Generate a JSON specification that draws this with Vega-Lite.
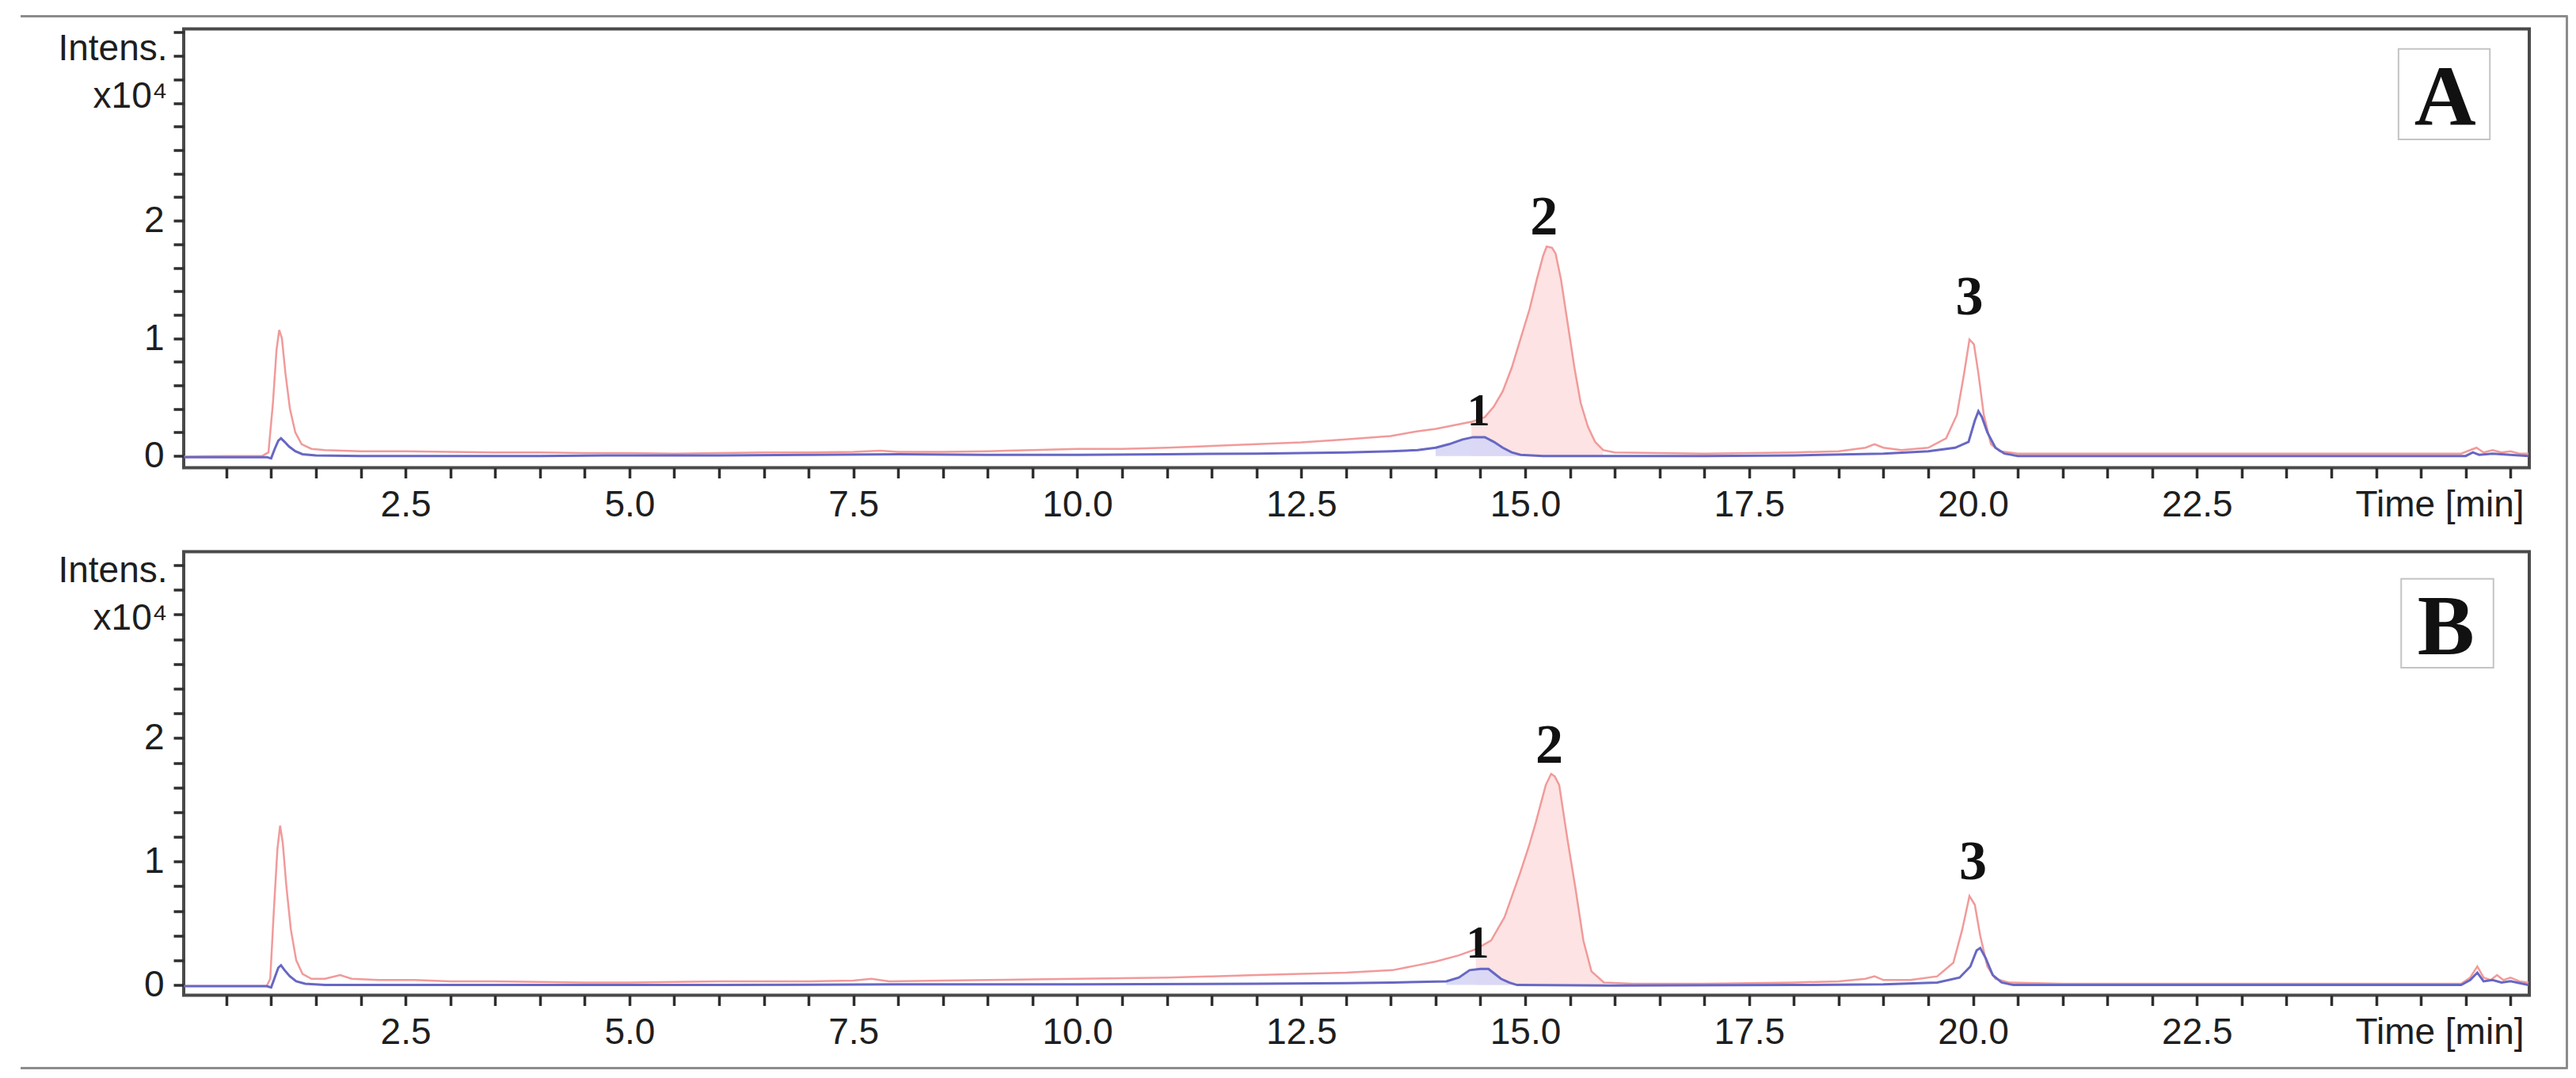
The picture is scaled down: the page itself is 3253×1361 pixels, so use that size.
{
  "$schema": "https://vega.github.io/schema/vega-lite/v6.json",
  "background": "white",
  "padding": {"left": 22, "top": 15.5, "right": 0, "bottom": 0},
  "bounds": "flush",
  "spacing": 106,
  "config": {
    "view": {"stroke": "#4a4a4a", "strokeWidth": 4},
    "axis": {
      "grid": false, "domain": false,
      "labelFont": "Liberation Sans", "labelFontSize": 46, "labelColor": "#1e1e1e",
      "titleFont": "Liberation Sans", "titleFontSize": 46, "titleFontWeight": "normal", "titleColor": "#1e1e1e"
    }
  },
  "datasets": {
    "traces": [
      {"panel":"A","trace":"red","time":0.03,"intensity":-0.005},{"panel":"A","trace":"red","time":0.5,"intensity":0.0},{"panel":"A","trace":"red","time":0.9,"intensity":0.0},{"panel":"A","trace":"red","time":0.97,"intensity":0.03},{"panel":"A","trace":"red","time":1.02,"intensity":0.45},{"panel":"A","trace":"red","time":1.06,"intensity":0.9},{"panel":"A","trace":"red","time":1.09,"intensity":1.07},{"panel":"A","trace":"red","time":1.12,"intensity":1.0},{"panel":"A","trace":"red","time":1.16,"intensity":0.7},{"panel":"A","trace":"red","time":1.21,"intensity":0.4},{"panel":"A","trace":"red","time":1.27,"intensity":0.2},{"panel":"A","trace":"red","time":1.34,"intensity":0.1},{"panel":"A","trace":"red","time":1.45,"intensity":0.06},{"panel":"A","trace":"red","time":1.6,"intensity":0.05},{"panel":"A","trace":"red","time":2.0,"intensity":0.04},{"panel":"A","trace":"red","time":2.5,"intensity":0.04},{"panel":"A","trace":"red","time":3.0,"intensity":0.035},{"panel":"A","trace":"red","time":3.5,"intensity":0.03},{"panel":"A","trace":"red","time":4.0,"intensity":0.03},{"panel":"A","trace":"red","time":4.5,"intensity":0.025},{"panel":"A","trace":"red","time":5.0,"intensity":0.025},{"panel":"A","trace":"red","time":5.5,"intensity":0.02},{"panel":"A","trace":"red","time":6.0,"intensity":0.025},{"panel":"A","trace":"red","time":6.5,"intensity":0.03},{"panel":"A","trace":"red","time":7.0,"intensity":0.03},{"panel":"A","trace":"red","time":7.5,"intensity":0.035},{"panel":"A","trace":"red","time":7.8,"intensity":0.045},{"panel":"A","trace":"red","time":8.0,"intensity":0.035},{"panel":"A","trace":"red","time":8.5,"intensity":0.035},{"panel":"A","trace":"red","time":9.0,"intensity":0.04},{"panel":"A","trace":"red","time":9.5,"intensity":0.05},{"panel":"A","trace":"red","time":10.0,"intensity":0.06},{"panel":"A","trace":"red","time":10.5,"intensity":0.06},{"panel":"A","trace":"red","time":11.0,"intensity":0.07},{"panel":"A","trace":"red","time":11.5,"intensity":0.085},{"panel":"A","trace":"red","time":12.0,"intensity":0.1},{"panel":"A","trace":"red","time":12.5,"intensity":0.115},{"panel":"A","trace":"red","time":13.0,"intensity":0.14},{"panel":"A","trace":"red","time":13.5,"intensity":0.17},{"panel":"A","trace":"red","time":13.8,"intensity":0.21},{"panel":"A","trace":"red","time":14.0,"intensity":0.23},{"panel":"A","trace":"red","time":14.2,"intensity":0.26},{"panel":"A","trace":"red","time":14.4,"intensity":0.29},{"panel":"A","trace":"red","time":14.55,"intensity":0.33},{"panel":"A","trace":"red","time":14.65,"intensity":0.42},{"panel":"A","trace":"red","time":14.75,"intensity":0.55},{"panel":"A","trace":"red","time":14.85,"intensity":0.75},{"panel":"A","trace":"red","time":14.95,"intensity":1.0},{"panel":"A","trace":"red","time":15.05,"intensity":1.25},{"panel":"A","trace":"red","time":15.13,"intensity":1.5},{"panel":"A","trace":"red","time":15.2,"intensity":1.7},{"panel":"A","trace":"red","time":15.24,"intensity":1.78},{"panel":"A","trace":"red","time":15.3,"intensity":1.77},{"panel":"A","trace":"red","time":15.34,"intensity":1.72},{"panel":"A","trace":"red","time":15.4,"intensity":1.5},{"panel":"A","trace":"red","time":15.47,"intensity":1.15},{"panel":"A","trace":"red","time":15.55,"intensity":0.75},{"panel":"A","trace":"red","time":15.62,"intensity":0.45},{"panel":"A","trace":"red","time":15.7,"intensity":0.25},{"panel":"A","trace":"red","time":15.78,"intensity":0.12},{"panel":"A","trace":"red","time":15.87,"intensity":0.05},{"panel":"A","trace":"red","time":16.0,"intensity":0.03},{"panel":"A","trace":"red","time":16.5,"intensity":0.025},{"panel":"A","trace":"red","time":17.0,"intensity":0.02},{"panel":"A","trace":"red","time":17.5,"intensity":0.025},{"panel":"A","trace":"red","time":18.0,"intensity":0.03},{"panel":"A","trace":"red","time":18.5,"intensity":0.04},{"panel":"A","trace":"red","time":18.8,"intensity":0.07},{"panel":"A","trace":"red","time":18.9,"intensity":0.1},{"panel":"A","trace":"red","time":19.0,"intensity":0.07},{"panel":"A","trace":"red","time":19.2,"intensity":0.05},{"panel":"A","trace":"red","time":19.5,"intensity":0.07},{"panel":"A","trace":"red","time":19.7,"intensity":0.15},{"panel":"A","trace":"red","time":19.82,"intensity":0.35},{"panel":"A","trace":"red","time":19.9,"intensity":0.7},{"panel":"A","trace":"red","time":19.96,"intensity":0.99},{"panel":"A","trace":"red","time":20.01,"intensity":0.95},{"panel":"A","trace":"red","time":20.06,"intensity":0.7},{"panel":"A","trace":"red","time":20.12,"intensity":0.35},{"panel":"A","trace":"red","time":20.2,"intensity":0.1},{"panel":"A","trace":"red","time":20.3,"intensity":0.04},{"panel":"A","trace":"red","time":20.5,"intensity":0.02},{"panel":"A","trace":"red","time":21.0,"intensity":0.02},{"panel":"A","trace":"red","time":22.0,"intensity":0.02},{"panel":"A","trace":"red","time":23.0,"intensity":0.02},{"panel":"A","trace":"red","time":24.0,"intensity":0.02},{"panel":"A","trace":"red","time":25.0,"intensity":0.02},{"panel":"A","trace":"red","time":25.45,"intensity":0.02},{"panel":"A","trace":"red","time":25.55,"intensity":0.05},{"panel":"A","trace":"red","time":25.62,"intensity":0.07},{"panel":"A","trace":"red","time":25.7,"intensity":0.03},{"panel":"A","trace":"red","time":25.8,"intensity":0.05},{"panel":"A","trace":"red","time":25.9,"intensity":0.03},{"panel":"A","trace":"red","time":26.0,"intensity":0.04},{"panel":"A","trace":"red","time":26.1,"intensity":0.02},{"panel":"A","trace":"red","time":26.2,"intensity":0.02},
      {"panel":"A","trace":"blue","time":0.03,"intensity":-0.01},{"panel":"A","trace":"blue","time":0.5,"intensity":-0.01},{"panel":"A","trace":"blue","time":0.95,"intensity":-0.01},{"panel":"A","trace":"blue","time":1.0,"intensity":-0.02},{"panel":"A","trace":"blue","time":1.04,"intensity":0.06},{"panel":"A","trace":"blue","time":1.08,"intensity":0.13},{"panel":"A","trace":"blue","time":1.11,"intensity":0.15},{"panel":"A","trace":"blue","time":1.15,"intensity":0.12},{"panel":"A","trace":"blue","time":1.2,"intensity":0.08},{"panel":"A","trace":"blue","time":1.27,"intensity":0.04},{"panel":"A","trace":"blue","time":1.35,"intensity":0.015},{"panel":"A","trace":"blue","time":1.5,"intensity":0.005},{"panel":"A","trace":"blue","time":2.0,"intensity":0.0},{"panel":"A","trace":"blue","time":3.0,"intensity":0.0},{"panel":"A","trace":"blue","time":4.0,"intensity":0.0},{"panel":"A","trace":"blue","time":5.0,"intensity":0.005},{"panel":"A","trace":"blue","time":6.0,"intensity":0.005},{"panel":"A","trace":"blue","time":7.0,"intensity":0.01},{"panel":"A","trace":"blue","time":8.0,"intensity":0.015},{"panel":"A","trace":"blue","time":9.0,"intensity":0.01},{"panel":"A","trace":"blue","time":10.0,"intensity":0.01},{"panel":"A","trace":"blue","time":11.0,"intensity":0.015},{"panel":"A","trace":"blue","time":12.0,"intensity":0.02},{"panel":"A","trace":"blue","time":12.5,"intensity":0.025},{"panel":"A","trace":"blue","time":13.0,"intensity":0.03},{"panel":"A","trace":"blue","time":13.5,"intensity":0.04},{"panel":"A","trace":"blue","time":13.8,"intensity":0.05},{"panel":"A","trace":"blue","time":14.0,"intensity":0.07},{"panel":"A","trace":"blue","time":14.15,"intensity":0.1},{"panel":"A","trace":"blue","time":14.3,"intensity":0.14},{"panel":"A","trace":"blue","time":14.42,"intensity":0.16},{"panel":"A","trace":"blue","time":14.55,"intensity":0.16},{"panel":"A","trace":"blue","time":14.65,"intensity":0.12},{"panel":"A","trace":"blue","time":14.75,"intensity":0.07},{"panel":"A","trace":"blue","time":14.85,"intensity":0.03},{"panel":"A","trace":"blue","time":14.95,"intensity":0.01},{"panel":"A","trace":"blue","time":15.2,"intensity":0.0},{"panel":"A","trace":"blue","time":16.0,"intensity":0.0},{"panel":"A","trace":"blue","time":17.0,"intensity":0.0},{"panel":"A","trace":"blue","time":18.0,"intensity":0.005},{"panel":"A","trace":"blue","time":19.0,"intensity":0.02},{"panel":"A","trace":"blue","time":19.5,"intensity":0.04},{"panel":"A","trace":"blue","time":19.8,"intensity":0.07},{"panel":"A","trace":"blue","time":19.95,"intensity":0.12},{"panel":"A","trace":"blue","time":20.02,"intensity":0.3},{"panel":"A","trace":"blue","time":20.06,"intensity":0.38},{"panel":"A","trace":"blue","time":20.1,"intensity":0.33},{"panel":"A","trace":"blue","time":20.16,"intensity":0.2},{"panel":"A","trace":"blue","time":20.25,"intensity":0.07},{"panel":"A","trace":"blue","time":20.35,"intensity":0.02},{"panel":"A","trace":"blue","time":20.5,"intensity":0.0},{"panel":"A","trace":"blue","time":22.0,"intensity":0.0},{"panel":"A","trace":"blue","time":24.0,"intensity":0.0},{"panel":"A","trace":"blue","time":25.5,"intensity":0.0},{"panel":"A","trace":"blue","time":25.58,"intensity":0.03},{"panel":"A","trace":"blue","time":25.65,"intensity":0.01},{"panel":"A","trace":"blue","time":25.8,"intensity":0.02},{"panel":"A","trace":"blue","time":26.0,"intensity":0.01},{"panel":"A","trace":"blue","time":26.2,"intensity":0.0},
      {"panel":"B","trace":"red","time":0.03,"intensity":-0.01},{"panel":"B","trace":"red","time":0.5,"intensity":-0.01},{"panel":"B","trace":"red","time":0.95,"intensity":-0.01},{"panel":"B","trace":"red","time":0.99,"intensity":0.05},{"panel":"B","trace":"red","time":1.03,"intensity":0.6},{"panel":"B","trace":"red","time":1.07,"intensity":1.1},{"panel":"B","trace":"red","time":1.1,"intensity":1.29},{"panel":"B","trace":"red","time":1.13,"intensity":1.15},{"panel":"B","trace":"red","time":1.17,"intensity":0.8},{"panel":"B","trace":"red","time":1.22,"intensity":0.45},{"panel":"B","trace":"red","time":1.28,"intensity":0.2},{"panel":"B","trace":"red","time":1.35,"intensity":0.09},{"panel":"B","trace":"red","time":1.45,"intensity":0.05},{"panel":"B","trace":"red","time":1.6,"intensity":0.05},{"panel":"B","trace":"red","time":1.77,"intensity":0.08},{"panel":"B","trace":"red","time":1.9,"intensity":0.05},{"panel":"B","trace":"red","time":2.2,"intensity":0.04},{"panel":"B","trace":"red","time":2.6,"intensity":0.04},{"panel":"B","trace":"red","time":3.0,"intensity":0.03},{"panel":"B","trace":"red","time":3.5,"intensity":0.03},{"panel":"B","trace":"red","time":4.0,"intensity":0.025},{"panel":"B","trace":"red","time":4.5,"intensity":0.02},{"panel":"B","trace":"red","time":5.0,"intensity":0.02},{"panel":"B","trace":"red","time":5.5,"intensity":0.025},{"panel":"B","trace":"red","time":6.0,"intensity":0.03},{"panel":"B","trace":"red","time":6.5,"intensity":0.03},{"panel":"B","trace":"red","time":7.0,"intensity":0.03},{"panel":"B","trace":"red","time":7.5,"intensity":0.035},{"panel":"B","trace":"red","time":7.7,"intensity":0.05},{"panel":"B","trace":"red","time":7.9,"intensity":0.03},{"panel":"B","trace":"red","time":8.5,"intensity":0.035},{"panel":"B","trace":"red","time":9.0,"intensity":0.04},{"panel":"B","trace":"red","time":9.5,"intensity":0.045},{"panel":"B","trace":"red","time":10.0,"intensity":0.05},{"panel":"B","trace":"red","time":10.5,"intensity":0.055},{"panel":"B","trace":"red","time":11.0,"intensity":0.06},{"panel":"B","trace":"red","time":11.5,"intensity":0.07},{"panel":"B","trace":"red","time":12.0,"intensity":0.08},{"panel":"B","trace":"red","time":12.5,"intensity":0.09},{"panel":"B","trace":"red","time":13.0,"intensity":0.1},{"panel":"B","trace":"red","time":13.52,"intensity":0.12},{"panel":"B","trace":"red","time":13.8,"intensity":0.16},{"panel":"B","trace":"red","time":14.0,"intensity":0.19},{"panel":"B","trace":"red","time":14.26,"intensity":0.24},{"panel":"B","trace":"red","time":14.45,"intensity":0.29},{"panel":"B","trace":"red","time":14.62,"intensity":0.36},{"panel":"B","trace":"red","time":14.77,"intensity":0.55},{"panel":"B","trace":"red","time":14.94,"intensity":0.9},{"panel":"B","trace":"red","time":15.04,"intensity":1.12},{"panel":"B","trace":"red","time":15.12,"intensity":1.32},{"panel":"B","trace":"red","time":15.23,"intensity":1.62},{"panel":"B","trace":"red","time":15.29,"intensity":1.71},{"panel":"B","trace":"red","time":15.33,"intensity":1.69},{"panel":"B","trace":"red","time":15.38,"intensity":1.62},{"panel":"B","trace":"red","time":15.47,"intensity":1.19},{"panel":"B","trace":"red","time":15.56,"intensity":0.79},{"panel":"B","trace":"red","time":15.65,"intensity":0.36},{"panel":"B","trace":"red","time":15.74,"intensity":0.11},{"panel":"B","trace":"red","time":15.88,"intensity":0.02},{"panel":"B","trace":"red","time":16.2,"intensity":0.01},{"panel":"B","trace":"red","time":17.0,"intensity":0.01},{"panel":"B","trace":"red","time":18.0,"intensity":0.02},{"panel":"B","trace":"red","time":18.5,"intensity":0.03},{"panel":"B","trace":"red","time":18.8,"intensity":0.05},{"panel":"B","trace":"red","time":18.9,"intensity":0.07},{"panel":"B","trace":"red","time":19.0,"intensity":0.04},{"panel":"B","trace":"red","time":19.3,"intensity":0.04},{"panel":"B","trace":"red","time":19.6,"intensity":0.07},{"panel":"B","trace":"red","time":19.78,"intensity":0.18},{"panel":"B","trace":"red","time":19.88,"intensity":0.45},{"panel":"B","trace":"red","time":19.96,"intensity":0.72},{"panel":"B","trace":"red","time":20.02,"intensity":0.65},{"panel":"B","trace":"red","time":20.08,"intensity":0.4},{"panel":"B","trace":"red","time":20.16,"intensity":0.15},{"panel":"B","trace":"red","time":20.25,"intensity":0.05},{"panel":"B","trace":"red","time":20.4,"intensity":0.02},{"panel":"B","trace":"red","time":21.0,"intensity":0.01},{"panel":"B","trace":"red","time":22.0,"intensity":0.01},{"panel":"B","trace":"red","time":23.0,"intensity":0.01},{"panel":"B","trace":"red","time":24.0,"intensity":0.01},{"panel":"B","trace":"red","time":25.0,"intensity":0.01},{"panel":"B","trace":"red","time":25.45,"intensity":0.01},{"panel":"B","trace":"red","time":25.55,"intensity":0.06},{"panel":"B","trace":"red","time":25.63,"intensity":0.15},{"panel":"B","trace":"red","time":25.7,"intensity":0.06},{"panel":"B","trace":"red","time":25.78,"intensity":0.04},{"panel":"B","trace":"red","time":25.85,"intensity":0.08},{"panel":"B","trace":"red","time":25.92,"intensity":0.04},{"panel":"B","trace":"red","time":26.0,"intensity":0.06},{"panel":"B","trace":"red","time":26.1,"intensity":0.03},{"panel":"B","trace":"red","time":26.2,"intensity":0.02},
      {"panel":"B","trace":"blue","time":0.03,"intensity":-0.01},{"panel":"B","trace":"blue","time":0.5,"intensity":-0.01},{"panel":"B","trace":"blue","time":0.95,"intensity":-0.01},{"panel":"B","trace":"blue","time":1.0,"intensity":-0.02},{"panel":"B","trace":"blue","time":1.04,"intensity":0.06},{"panel":"B","trace":"blue","time":1.08,"intensity":0.14},{"panel":"B","trace":"blue","time":1.11,"intensity":0.16},{"panel":"B","trace":"blue","time":1.15,"intensity":0.12},{"panel":"B","trace":"blue","time":1.21,"intensity":0.07},{"panel":"B","trace":"blue","time":1.28,"intensity":0.03},{"panel":"B","trace":"blue","time":1.38,"intensity":0.01},{"panel":"B","trace":"blue","time":1.6,"intensity":0.0},{"panel":"B","trace":"blue","time":2.5,"intensity":0.0},{"panel":"B","trace":"blue","time":4.0,"intensity":0.0},{"panel":"B","trace":"blue","time":6.0,"intensity":0.0},{"panel":"B","trace":"blue","time":8.0,"intensity":0.005},{"panel":"B","trace":"blue","time":10.0,"intensity":0.005},{"panel":"B","trace":"blue","time":12.0,"intensity":0.01},{"panel":"B","trace":"blue","time":13.0,"intensity":0.015},{"panel":"B","trace":"blue","time":13.52,"intensity":0.02},{"panel":"B","trace":"blue","time":14.12,"intensity":0.03},{"panel":"B","trace":"blue","time":14.26,"intensity":0.06},{"panel":"B","trace":"blue","time":14.38,"intensity":0.12},{"panel":"B","trace":"blue","time":14.5,"intensity":0.13},{"panel":"B","trace":"blue","time":14.59,"intensity":0.13},{"panel":"B","trace":"blue","time":14.66,"intensity":0.09},{"panel":"B","trace":"blue","time":14.73,"intensity":0.05},{"panel":"B","trace":"blue","time":14.82,"intensity":0.02},{"panel":"B","trace":"blue","time":14.91,"intensity":0.0},{"panel":"B","trace":"blue","time":16.0,"intensity":-0.005},{"panel":"B","trace":"blue","time":18.0,"intensity":0.0},{"panel":"B","trace":"blue","time":19.0,"intensity":0.005},{"panel":"B","trace":"blue","time":19.6,"intensity":0.02},{"panel":"B","trace":"blue","time":19.85,"intensity":0.06},{"panel":"B","trace":"blue","time":19.97,"intensity":0.15},{"panel":"B","trace":"blue","time":20.04,"intensity":0.28},{"panel":"B","trace":"blue","time":20.08,"intensity":0.3},{"panel":"B","trace":"blue","time":20.14,"intensity":0.22},{"panel":"B","trace":"blue","time":20.22,"intensity":0.08},{"panel":"B","trace":"blue","time":20.32,"intensity":0.02},{"panel":"B","trace":"blue","time":20.45,"intensity":0.0},{"panel":"B","trace":"blue","time":22.0,"intensity":0.0},{"panel":"B","trace":"blue","time":25.45,"intensity":0.0},{"panel":"B","trace":"blue","time":25.55,"intensity":0.04},{"panel":"B","trace":"blue","time":25.63,"intensity":0.1},{"panel":"B","trace":"blue","time":25.7,"intensity":0.03},{"panel":"B","trace":"blue","time":25.8,"intensity":0.04},{"panel":"B","trace":"blue","time":25.9,"intensity":0.02},{"panel":"B","trace":"blue","time":26.0,"intensity":0.03},{"panel":"B","trace":"blue","time":26.2,"intensity":0.0}
    ],
    "peaks": [
      {"panel":"A","label":"1","time":14.48,"intensity":0.26},
      {"panel":"A","label":"2","time":15.21,"intensity":1.88},
      {"panel":"A","label":"3","time":19.96,"intensity":1.2},
      {"panel":"B","label":"1","time":14.47,"intensity":0.22},
      {"panel":"B","label":"2","time":15.27,"intensity":1.8},
      {"panel":"B","label":"3","time":20.0,"intensity":0.86}
    ]
  },
  "vconcat": [
    {
      "width": 2962,
      "height": 554,
      "resolve": {"axis": {"x": "independent", "y": "independent"}},
      "layer": [
        {"data": {"name": "traces"}, "transform": [{"filter": "datum.panel == 'A' && datum.trace == 'red' && datum.time >= 14.4 && datum.time <= 15.87"}],
          "mark": {"type": "area", "color": "#fde3e3"},
          "encoding": {
            "x": {"field": "time", "type": "quantitative", "scale": {"domain": [0.024, 26.21], "nice": false, "zero": false},
              "axis": {"values": [0.5,1,1.5,2,2.5,3,3.5,4,4.5,5,5.5,6,6.5,7,7.5,8,8.5,9,9.5,10,10.5,11,11.5,12,12.5,13,13.5,14,14.5,15,15.5,16,16.5,17,17.5,18,18.5,19,19.5,20,20.5,21,21.5,22,22.5,23,23.5,24,24.5,25,25.5,26],
                "labelExpr": "(datum.value % 2.5 == 0 && datum.value < 24) ? format(datum.value, '.1f') : ''",
                "labelOverlap": false, "labelPadding": 12, "ticks": true, "tickSize": 13, "tickWidth": 3.5, "tickColor": "#2e2e2e",
                "title": "Time [min]", "titleX": 2955, "titleY": 25, "titleAlign": "right", "titleBaseline": "top"}},
            "y": {"field": "intensity", "type": "quantitative", "scale": {"domain": [-0.1, 3.63], "nice": false, "zero": false},
              "axis": {"values": [0,0.2,0.4,0.6,0.8,1,1.2,1.4,1.6,1.8,2,2.2,2.4,2.6,2.8,3,3.2,3.4,3.6],
                "labelExpr": "datum.value == 0 ? '0' : datum.value == 1 ? '1' : datum.value == 2 ? '2' : ''",
                "labelOverlap": false, "labelPadding": 12, "ticks": true, "tickSize": 13, "tickWidth": 3.5, "tickColor": "#2e2e2e",
                "title": ["Intens.", "x10⁴"], "titleAngle": 0, "titleAlign": "right", "titleBaseline": "alphabetic",
                "titleX": -21, "titleY": 39, "titleLineHeight": 60}}
          }},
        {"data": {"name": "traces"}, "transform": [{"filter": "datum.panel == 'A' && datum.trace == 'blue' && datum.time >= 14.0 && datum.time <= 14.95"}],
          "mark": {"type": "area", "color": "#d6d6f5", "opacity": 0.9},
          "encoding": {
            "x": {"field": "time", "type": "quantitative", "axis": null},
            "y": {"field": "intensity", "type": "quantitative", "axis": null}}},
        {"data": {"name": "traces"}, "transform": [{"filter": "datum.panel == 'A' && datum.trace == 'red'"}],
          "mark": {"type": "line", "color": "#f19a9a", "strokeWidth": 2.5},
          "encoding": {
            "x": {"field": "time", "type": "quantitative", "axis": null},
            "y": {"field": "intensity", "type": "quantitative", "axis": null}}},
        {"data": {"name": "traces"}, "transform": [{"filter": "datum.panel == 'A' && datum.trace == 'blue'"}],
          "mark": {"type": "line", "color": "#6767c4", "strokeWidth": 3},
          "encoding": {
            "x": {"field": "time", "type": "quantitative", "axis": null},
            "y": {"field": "intensity", "type": "quantitative", "axis": null}}},
        {"data": {"name": "peaks"}, "transform": [{"filter": "datum.panel == 'A'"}],
          "mark": {"type": "text", "font": "Liberation Serif", "fontWeight": "bold", "baseline": "alphabetic", "align": "center", "color": "#111111"},
          "encoding": {
            "x": {"field": "time", "type": "quantitative", "axis": null},
            "y": {"field": "intensity", "type": "quantitative", "axis": null},
            "text": {"field": "label"}, "size": {"condition": {"test": "datum.label == '1'", "value": 58}, "value": 70}}},
        {"data": {"values": [{}]}, "mark": {"type": "rect", "fill": "transparent", "stroke": "#c4c4c4", "strokeWidth": 2},
          "encoding": {"x": {"datum": 24.75, "axis": null}, "x2": {"datum": 25.77}, "y": {"datum": 3.46, "axis": null}, "y2": {"datum": 2.69}}},
        {"data": {"values": [{}]}, "mark": {"type": "text", "text": "A", "font": "Liberation Serif", "fontWeight": "bold", "fontSize": 108, "baseline": "alphabetic", "align": "center", "color": "#111111"},
          "encoding": {"x": {"datum": 25.27, "axis": null}, "y": {"datum": 2.815, "axis": null}}},
        {"data": {"values": [{}]}, "mark": {"type": "rule", "color": "#8c8c8c", "strokeWidth": 3},
          "encoding": {"x": {"datum": -1.797, "axis": null}, "x2": {"datum": 26.64}, "y": {"datum": 3.737, "axis": null}}},
        {"data": {"values": [{}]}, "mark": {"type": "rule", "color": "#8c8c8c", "strokeWidth": 3},
          "encoding": {"x": {"datum": 26.63, "axis": null}, "y": {"datum": 3.737, "axis": null}, "y2": {"datum": -5.203}}},
        {"data": {"values": [{}]}, "mark": {"type": "rule", "color": "#8c8c8c", "strokeWidth": 3},
          "encoding": {"x": {"datum": -1.797, "axis": null}, "x2": {"datum": 26.64}, "y": {"datum": -5.203, "axis": null}}}
      ]
    },
    {
      "width": 2962,
      "height": 560,
      "resolve": {"axis": {"x": "independent", "y": "independent"}},
      "layer": [
        {"data": {"name": "traces"}, "transform": [{"filter": "datum.panel == 'B' && datum.trace == 'red' && datum.time >= 14.45 && datum.time <= 15.88"}],
          "mark": {"type": "area", "color": "#fde3e3"},
          "encoding": {
            "x": {"field": "time", "type": "quantitative", "scale": {"domain": [0.024, 26.21], "nice": false, "zero": false},
              "axis": {"values": [0.5,1,1.5,2,2.5,3,3.5,4,4.5,5,5.5,6,6.5,7,7.5,8,8.5,9,9.5,10,10.5,11,11.5,12,12.5,13,13.5,14,14.5,15,15.5,16,16.5,17,17.5,18,18.5,19,19.5,20,20.5,21,21.5,22,22.5,23,23.5,24,24.5,25,25.5,26],
                "labelExpr": "(datum.value % 2.5 == 0 && datum.value < 24) ? format(datum.value, '.1f') : ''",
                "labelOverlap": false, "labelPadding": 12, "ticks": true, "tickSize": 13, "tickWidth": 3.5, "tickColor": "#2e2e2e",
                "title": "Time [min]", "titleX": 2955, "titleY": 25, "titleAlign": "right", "titleBaseline": "top"}},
            "y": {"field": "intensity", "type": "quantitative", "scale": {"domain": [-0.083, 3.51], "nice": false, "zero": false},
              "axis": {"values": [0,0.2,0.4,0.6,0.8,1,1.2,1.4,1.6,1.8,2,2.2,2.4,2.6,2.8,3,3.2,3.4],
                "labelExpr": "datum.value == 0 ? '0' : datum.value == 1 ? '1' : datum.value == 2 ? '2' : ''",
                "labelOverlap": false, "labelPadding": 12, "ticks": true, "tickSize": 13, "tickWidth": 3.5, "tickColor": "#2e2e2e",
                "title": ["Intens.", "x10⁴"], "titleAngle": 0, "titleAlign": "right", "titleBaseline": "alphabetic",
                "titleX": -21, "titleY": 38, "titleLineHeight": 60}}
          }},
        {"data": {"name": "traces"}, "transform": [{"filter": "datum.panel == 'B' && datum.trace == 'blue' && datum.time >= 14.12 && datum.time <= 14.91"}],
          "mark": {"type": "area", "color": "#d6d6f5", "opacity": 0.9},
          "encoding": {
            "x": {"field": "time", "type": "quantitative", "axis": null},
            "y": {"field": "intensity", "type": "quantitative", "axis": null}}},
        {"data": {"name": "traces"}, "transform": [{"filter": "datum.panel == 'B' && datum.trace == 'red'"}],
          "mark": {"type": "line", "color": "#f19a9a", "strokeWidth": 2.5},
          "encoding": {
            "x": {"field": "time", "type": "quantitative", "axis": null},
            "y": {"field": "intensity", "type": "quantitative", "axis": null}}},
        {"data": {"name": "traces"}, "transform": [{"filter": "datum.panel == 'B' && datum.trace == 'blue'"}],
          "mark": {"type": "line", "color": "#6767c4", "strokeWidth": 3},
          "encoding": {
            "x": {"field": "time", "type": "quantitative", "axis": null},
            "y": {"field": "intensity", "type": "quantitative", "axis": null}}},
        {"data": {"name": "peaks"}, "transform": [{"filter": "datum.panel == 'B'"}],
          "mark": {"type": "text", "font": "Liberation Serif", "fontWeight": "bold", "baseline": "alphabetic", "align": "center", "color": "#111111"},
          "encoding": {
            "x": {"field": "time", "type": "quantitative", "axis": null},
            "y": {"field": "intensity", "type": "quantitative", "axis": null},
            "text": {"field": "label"}, "size": {"condition": {"test": "datum.label == '1'", "value": 58}, "value": 70}}},
        {"data": {"values": [{}]}, "mark": {"type": "rect", "fill": "transparent", "stroke": "#c4c4c4", "strokeWidth": 2},
          "encoding": {"x": {"datum": 24.78, "axis": null}, "x2": {"datum": 25.81}, "y": {"datum": 3.29, "axis": null}, "y2": {"datum": 2.57}}},
        {"data": {"values": [{}]}, "mark": {"type": "text", "text": "B", "font": "Liberation Serif", "fontWeight": "bold", "fontSize": 108, "baseline": "alphabetic", "align": "center", "color": "#111111"},
          "encoding": {"x": {"datum": 25.28, "axis": null}, "y": {"datum": 2.68, "axis": null}}}
      ]
    }
  ]
}
